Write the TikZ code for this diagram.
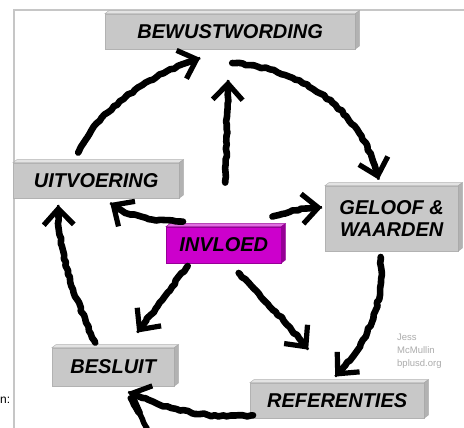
\documentclass[tikz,border=0pt]{standalone}
\usepackage{fontspec}
\setmainfont{Liberation Sans}
\usetikzlibrary{arrows.meta,decorations.pathmorphing,patterns,calc}
\definecolor{invmag}{RGB}{204,0,204}
\definecolor{invside}{RGB}{150,0,150}
\definecolor{invtop}{RGB}{225,110,225}
\definecolor{boxgray}{RGB}{200,200,200}
\begin{document}
\begin{tikzpicture}[x=1pt,y=-1pt,
  lbl/.style={font=\bfseries\itshape\fontsize{20}{23}\selectfont, inner sep=0pt, align=center, text=black},
  face/.style={draw=gray!60, line width=0.4pt},
  topface/.style={fill=gray!22, draw=gray!60, line width=0.4pt},
  sideface/.style={fill=gray!60, draw=gray!70, line width=0.4pt},
  msideface/.style={fill=invside, draw=invside, line width=0.4pt},
  mtopface/.style={fill=invtop, draw=invside, line width=0.4pt},
  brush/.style={line width=6.6pt, line cap=round, line join=round, draw=black,
     decorate, decoration={random steps, segment length=4pt, amplitude=1pt, pre length=2pt, post length=15pt},
     preaction={draw=black, line width=2.4pt, -, decorate,
        decoration={random steps, segment length=5pt, amplitude=3pt, pre length=6pt, post length=22pt}},
     -{Straight Barb[length=16pt,width=30pt,line width=5.2pt]}},
  tail/.style={line width=5.5pt, line cap=round, draw=black, decorate,
     decoration={random steps, segment length=4pt, amplitude=1pt}},
  frame/.style={draw=gray!45, line width=1.3pt},
  credit/.style={font=\fontsize{9.5}{13}\selectfont, text=gray!65, align=left, inner sep=0pt, anchor=north west}
]
\pgfmathsetseed{11}
\useasboundingbox (0,0) rectangle (464,428);
\fill[white] (0,0) rectangle (464,428);

% frame of the screenshot
\draw[frame] (14,428) -- (14,10) -- (464,10);
\node[font=\fontsize{12}{14}\selectfont, anchor=west, inner sep=0pt] (cut) at (0,400) {n:};

% 3D box macro: name, x1, y1, x2, y2, face fill, text, top style, side style
\newcommand{\tdbox}[9]{%
  \pgfmathsetmacro\bw{#4-#2-4}%
  \pgfmathsetmacro\bh{#5-#3-3}%
  \node[face, fill=#6, lbl, minimum width=\bw pt, minimum height=\bh pt, anchor=south west] (#1) at (#2,#5) {#7};
  \path[#8] (#1.north west) -- ++(4,-3) -- ($(#1.north east)+(4,-3)$) -- (#1.north east) -- cycle;
  \path[#9] (#1.north east) -- ++(4,-3) -- ($(#1.south east)+(4,-3)$) -- (#1.south east) -- cycle;
}

\tdbox{BEW}{105}{11}{359}{49}{boxgray}{BEWUSTWORDING}{topface}{sideface}
\tdbox{UIT}{13}{160}{183}{198}{boxgray}{UITVOERING}{topface}{sideface}
\tdbox{GEL}{325}{183}{462}{251}{boxgray}{GELOOF \&\\[-1pt]WAARDEN}{topface}{sideface}
\tdbox{BES}{52}{345}{178}{386}{boxgray}{BESLUIT}{topface}{sideface}
\tdbox{REF}{250}{380}{428}{418}{boxgray}{REFERENTIES}{topface}{sideface}
\begin{scope}
\tikzset{face/.style={draw=invside, line width=0.4pt}}
\tdbox{INV}{166}{224}{285}{263}{invmag}{INVLOED}{mtopface}{msideface}
\end{scope}

% credit
\node[credit] (cred) at (397,334) {Jess\\McMullin\\bplusd.org};

% cycle arrows
\draw[brush] ([shift={(-18,-10)}]UIT.north) .. controls (98,110) and (150,74) .. ([shift={(-30,9)}]BEW.south);
\draw[brush] ([shift={(2,14)}]BEW.south) .. controls (300,68) and (362,108) .. ([shift={(-13,-6)}]GEL.north);
\draw[brush] ([shift={(-11,6)}]GEL.south) .. controls (384,300) and (372,338) .. ([shift={(-2,-6)}]REF.north);
\draw[brush] ([shift={(3,15)}]REF.west) .. controls (200,420) and (160,406) .. ([shift={(15,6)}]BES.south);
\draw[brush] ([shift={(-18,-5)}]BES.north) .. controls (76,300) and (58,258) .. ([shift={(-38,7)}]UIT.south);
\coordinate (low) at (147,428);
\draw[tail] ([shift={(17,12)}]BES.south) -- (low);

% influence arrows
\draw[brush] ([shift={(1.5,-44)}]INV.north) -- ([shift={(-2,31)}]BEW.south);
\draw[brush] ([shift={(17,-5)}]INV.north west) .. controls (160,221) and (126,218) .. ([shift={(14,5)}]UIT.south);
\draw[brush] ([shift={(-9,-10)}]INV.north east) .. controls (290,211) and (305,208) .. ([shift={(-3,-11)}]GEL.west);
\draw[brush] ([shift={(-36,3)}]INV.south) -- ([shift={(24,-15)}]BES.north);
\draw[brush] ([shift={(15,10)}]INV.south) .. controls (265,300) and (290,326) .. ([shift={(-29,-33)}]REF.north);
\end{tikzpicture}
\end{document}
